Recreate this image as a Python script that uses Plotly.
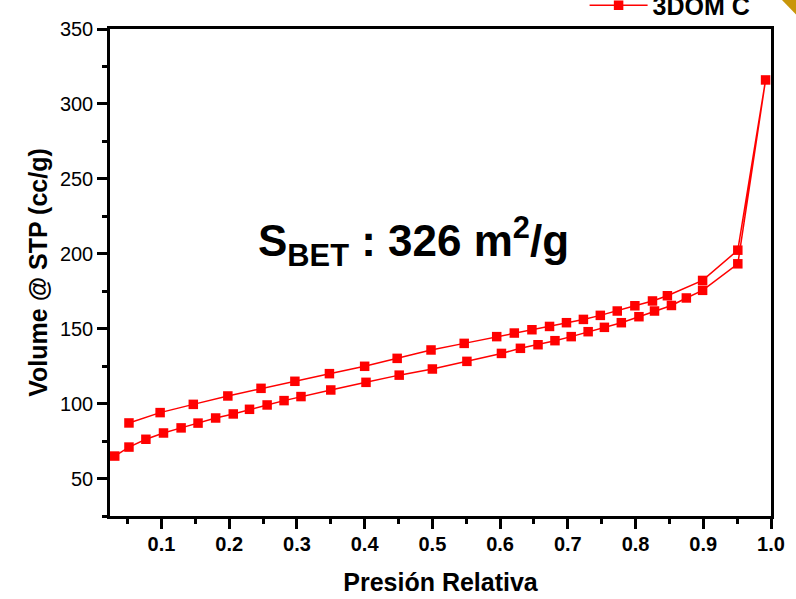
import plotly.graph_objects as go

# Adsorption branch (increasing P/P0)
ads_x = [0.031, 0.052, 0.077, 0.103, 0.129, 0.154, 0.180, 0.206, 0.230, 0.256, 0.281, 0.306,
         0.350, 0.402, 0.451, 0.500, 0.551, 0.602, 0.630, 0.656, 0.681, 0.705, 0.730, 0.754,
         0.779, 0.805, 0.828, 0.853, 0.875, 0.899, 0.951, 0.992]
ads_y = [65.0, 71.0, 76.2, 80.4, 83.8, 87.0, 90.4, 93.1, 96.2, 99.1, 102.0, 104.7,
         109.1, 114.2, 119.0, 123.1, 128.2, 133.5, 136.9, 139.3, 142.0, 144.7, 148.0, 150.9,
         154.0, 158.0, 161.8, 165.5, 170.5, 175.6, 193.3, 316.0]

# Desorption branch (decreasing P/P0)
des_x = [0.951, 0.899, 0.847, 0.825, 0.799, 0.773, 0.748, 0.723, 0.698, 0.673, 0.647, 0.621,
         0.595, 0.547, 0.498, 0.448, 0.400, 0.348, 0.297, 0.247, 0.198, 0.147, 0.098, 0.052]
des_y = [202.4, 182.2, 172.0, 168.5, 165.3, 161.8, 158.9, 156.2, 154.0, 151.5, 149.3, 147.1,
         144.7, 140.2, 135.8, 130.2, 124.9, 120.0, 114.9, 110.2, 105.1, 99.5, 94.0, 87.1]

series_name = "3DOM C"
x_ticks = [0.1, 0.2, 0.3, 0.4, 0.5, 0.6, 0.7, 0.8, 0.9, 1.0]
x_tick_labels = ["0.1", "0.2", "0.3", "0.4", "0.5", "0.6", "0.7", "0.8", "0.9", "1.0"]
y_ticks = [50, 100, 150, 200, 250, 300, 350]

FONT = "Arial, Liberation Sans, sans-serif"
RED = "#FF0000"

fig = go.Figure()
fig.add_trace(go.Scatter(
    x=ads_x + des_x, y=ads_y + des_y,
    mode="lines+markers",
    name=series_name,
    line=dict(color=RED, width=1.5),
    marker=dict(symbol="square", size=9.5, color=RED, line=dict(width=0)),
))

axis_common = dict(
    showline=True, linecolor="black", linewidth=2.5, mirror=True,
    ticks="outside", ticklen=10, tickwidth=2.5, tickcolor="black",
    showgrid=False, zeroline=False,
)

fig.update_xaxes(
    range=[0.024, 1.0], tickvals=x_ticks, ticktext=x_tick_labels,
    tickfont=dict(family=FONT, size=20, color="black", weight="bold"),
    ticklabelstandoff=-2,
    minor=dict(dtick=0.05, tick0=0, ticks="outside", ticklen=5, tickwidth=2.5, tickcolor="black"),
    title=dict(text="Presión Relativa", font=dict(family=FONT, size=25, color="black", weight="bold"),
               standoff=20),
    **axis_common,
)
fig.update_yaxes(
    range=[25, 350], tickvals=y_ticks,
    tickfont=dict(family=FONT, size=20, color="black"),
    minor=dict(dtick=25, tick0=0, ticks="outside", ticklen=5, tickwidth=2.5, tickcolor="black"),
    title=dict(text="Volume @ STP (cc/g)", font=dict(family=FONT, size=25, color="black", weight="bold"),
               standoff=6),
    **axis_common,
)

fig.add_annotation(
    x=0.472, y=208, xref="x", yref="y",
    text="S<sub>BET</sub> : 326 m<sup>2</sup>/g",
    showarrow=False, xanchor="center", yanchor="middle",
    font=dict(family=FONT, size=44, color="black", weight="bold"),
)

# small gold corner decoration at top right
fig.add_shape(type="path", xref="paper", yref="paper",
              path="M1.0166,1.0595L1.0393,1.0595L1.0393,1.0279Z",
              fillcolor="#C8960A", line=dict(width=0), layer="above")

fig.update_layout(
    width=796, height=599,
    margin=dict(l=110, r=25, t=29, b=83, autoexpand=False),
    paper_bgcolor="white", plot_bgcolor="white",
    showlegend=True,
    legend=dict(x=0.718, y=1.048, xanchor="left", yanchor="middle",
                bgcolor="rgba(0,0,0,0)", itemwidth=58,
                font=dict(family=FONT, size=25, color="black", weight="bold")),
)

fig.write_html("out.html", config={"displayModeBar": False},
               post_script="document.body.style.margin='0';")
